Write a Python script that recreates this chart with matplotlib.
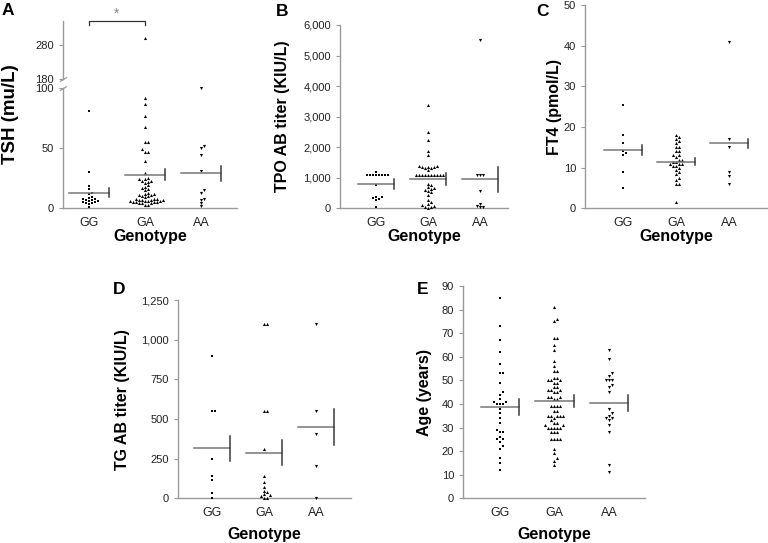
import numpy as np
import matplotlib
matplotlib.use('Agg')
import matplotlib.pyplot as plt

plt.rcParams['font.family'] = ['Liberation Sans', 'DejaVu Sans']

genotypes = ['GG', 'GA', 'AA']
markers = ['s', '^', 'v']
sizes = [3.2, 5, 5]

# A: TSH (mu/L)
tsh_gg = [81, 30, 18.5, 16, 13, 12, 9, 8.5, 8, 7.5, 7, 6.5, 6, 6, 5.5, 5, 4.5, 4, 3.5, 1]
tsh_ga = [300, 92, 87, 77, 68, 55, 55, 49, 47, 47, 39, 29, 25, 24, 24, 23, 23, 22, 21,
          19, 18, 17, 16, 15, 13, 12, 12, 11, 11, 10, 10, 9, 8, 8, 8, 7, 7, 7, 7, 6,
          6, 6, 6, 5, 5, 5, 5, 4, 4, 4, 3, 3]
tsh_aa = [100, 52, 50, 44, 31, 15, 13, 7.5, 7, 4.5, 1.5]
tsh_mean = [13, 28, 29]
tsh_sem = [3.5, 4.5, 6.5]

# B: TPO AB titer (KIU/L)
tpo_gg = [1200, 1100, 1100, 1100, 1100, 1100, 1100, 1100, 1100, 750, 380, 370, 330, 300, 280, 50]
tpo_ga = [3380, 2500, 2250, 1870, 1750, 1380, 1370, 1360, 1350, 1340, 1330, 1320, 1250,
          1100, 1100, 1100, 1100, 1100, 1100, 1100, 1100, 1100, 1100,
          800, 750, 700, 650, 620, 600, 560, 520, 440, 280, 200, 150, 100, 60, 40, 30, 20]
tpo_aa = [5500, 1100, 1100, 1100, 560, 150, 90, 40, 30]
tpo_mean = [795, 960, 950]
tpo_sem = [170, 190, 410]

# C: FT4 (pmol/L)
ft4_gg = [25.5, 18, 16, 14, 13.5, 13, 9, 5]
ft4_ga = [18, 17.5, 17, 16.5, 16, 15, 15, 14, 14, 13, 13, 12.5, 12, 12, 11.5, 11.5, 11, 11,
          11, 10.5, 10.5, 10, 9.5, 9, 8.5, 7.5, 7, 6, 6, 1.5]
ft4_aa = [41, 17, 15, 9, 8, 6]
ft4_mean = [14.3, 11.5, 16.0]
ft4_sem = [1.2, 0.95, 1.05]

# D: TG AB titer (KIU/L)
tg_gg = [900, 550, 550, 245, 140, 115, 35, 5]
tg_ga = [1100, 1100, 550, 550, 310, 140, 105, 70, 45, 40, 25, 20, 15, 5, 2]
tg_aa = [1100, 550, 405, 205, 0]
tg_mean = [315, 287, 451]
tg_sem = [77, 78, 113]

# E: Age (years)
age_gg = [85, 73, 67, 62, 57, 53, 53, 49, 45, 44, 42, 41, 41, 40, 40, 40, 38, 36, 34, 32,
          29, 28, 28, 26, 25, 25, 24, 22, 21, 17, 15, 12]
age_ga = [81, 76, 75, 68, 68, 65, 63, 58, 56, 54, 54, 51, 51, 50, 50, 50, 49, 49, 47, 47,
          46, 46, 46, 45, 45, 43, 43, 43, 42, 42, 39, 39, 39, 39, 37, 37, 35, 35, 35, 35,
          35, 34, 33, 32, 32, 31, 31, 30, 30, 30, 30, 30, 28, 28, 28, 25, 25, 25, 25, 21,
          19, 17, 16, 14]
age_aa = [63, 59, 53, 52, 50, 50, 50, 48, 47, 45, 38, 36, 35, 34, 34, 33, 31, 28, 14, 11]
age_mean = [38.8, 41.2, 40.3]
age_sem = [3.5, 2.4, 3.5]

W, H = 768, 543
fig = plt.figure(figsize=(W / 100, H / 100), dpi=100)

spine_c = '#9a9a9a'
text_c = '#222222'


def add_axes(xl, xr, yt, yb):
    return fig.add_axes([xl / W, 1 - yb / H, (xr - xl) / W, (yb - yt) / H])


def swarm(ax, xc, vals, d=3.0):
    vals = np.asarray(vals, float)
    pix = ax.transData.transform(np.column_stack([np.full(len(vals), xc), vals]))
    x0 = pix[0, 0]
    ys = pix[:, 1]
    xs = np.empty(len(vals))
    placed = []
    for i in np.argsort(ys):
        for k in range(80):
            step = (k + 1) // 2 * (1 if k % 2 else -1)
            cand = x0 + step * d
            if all((cand - px) ** 2 + (ys[i] - py) ** 2 >= d * d for px, py in placed):
                break
        placed.append((cand, ys[i]))
        xs[i] = cand
    return ax.transData.inverted().transform(np.column_stack([xs, ys]))[:, 0]


def panel(box, xlim, ylim, groups, means, sems, ylabel, yticks, yticklabels,
          letter, letter_xy, ylab_x, xlab_y, scale=None, ylab_size=11.5):
    xl, xr, yt, yb = box
    ax = add_axes(xl, xr, yt, yb)
    if scale is not None:
        ax.set_yscale('function', functions=scale)
    ax.set_xlim(*xlim)
    ax.set_ylim(*ylim)
    for s in ['top', 'right']:
        ax.spines[s].set_visible(False)
    for s in ['left', 'bottom']:
        ax.spines[s].set_color(spine_c)
        ax.spines[s].set_linewidth(1.0)
    ax.set_xticks([1, 2, 3])
    ax.set_xticklabels(genotypes)
    ax.set_yticks(yticks)
    ax.set_yticklabels(yticklabels)
    ax.tick_params(axis='x', length=0, pad=6, labelsize=9, labelcolor=text_c)
    ax.tick_params(axis='y', length=3, width=0.8, color=spine_c, pad=3.5,
                   labelsize=8, labelcolor=text_c)
    ax.minorticks_off()
    for i, vals in enumerate(groups):
        xs = swarm(ax, i + 1, vals)
        ax.scatter(xs, vals, s=sizes[i], marker=markers[i], c='black',
                   linewidths=0, clip_on=False, zorder=3)
        c = i + 1
        ax.plot([c - 0.35, c + 0.35], [means[i], means[i]], color='#777777',
                lw=1.1, zorder=4)
        ax.plot([c + 0.35, c + 0.35], [means[i] - sems[i], means[i] + sems[i]],
                color='#3a3a3a', lw=1.1, zorder=4)
    ax.set_ylabel(ylabel, fontsize=ylab_size, fontweight='bold', va='center', color='black')
    ax.yaxis.set_label_coords((ylab_x - xl) / (xr - xl), 0.5)
    ax.set_xlabel('Genotype', fontsize=11.5, fontweight='bold', va='center', color='black')
    ax.xaxis.set_label_coords(0.5, -(xlab_y - yb) / (yb - yt))
    fig.text(letter_xy[0] / W, 1 - letter_xy[1] / H, letter, fontsize=12.5,
             fontweight='bold', ha='left', va='top')
    return ax


# broken y scale for TSH: 0-100 linear, gap, 180+ compressed
K = 0.2833
G = 107.9


def fwd(y):
    y = np.asarray(y, float)
    return np.where(y <= 100, y,
                    np.where(y < 180, 100 + (y - 100) * (G - 100) / 80,
                             G + (y - 180) * K))


def inv(z):
    z = np.asarray(z, float)
    return np.where(z <= 100, z,
                    np.where(z < G, 100 + (z - 100) * 80 / (G - 100),
                             180 + (z - G) / K))


axA = panel((63, 237, 20.7, 208.3), (0.536, 3.643), (0, 350),
            [tsh_gg, tsh_ga, tsh_aa], tsh_mean, tsh_sem, 'TSH (mu/L)',
            [0, 50, 100, 180, 280], ['0', '50', '100', '180', '280'],
            'A', (2, 3), 11, 237, scale=(fwd, inv), ylab_size=13.5)
axA.spines['left'].set_visible(False)
x0 = axA.get_xlim()[0]
axA.plot([x0, x0], [0, 100], color=spine_c, lw=1.0, clip_on=False)
axA.plot([x0, x0], [180, 350], color=spine_c, lw=1.0, clip_on=False)
# break marks
brk = [(-1, -0.6), (1, 0.6)]
axA.plot([x0], [100], marker=brk, markersize=5, mew=0.9, color=spine_c, clip_on=False)
axA.plot([x0], [180], marker=brk, markersize=5, mew=0.9, color=spine_c, clip_on=False)
# significance bracket GG vs GA
tr = axA.get_xaxis_transform()
axA.plot([1, 1, 2, 2], [0.978, 1.0, 1.0, 0.978], transform=tr, color='#333333',
         lw=0.9, clip_on=False)
axA.text(1.5, 1.035, '*', transform=tr, ha='center', va='center', fontsize=10,
         color='#888888')

tpo_ticks = [0, 1000, 2000, 3000, 4000, 5000, 6000]
panel((340, 508, 25, 208.3), (0.308, 3.538), (0, 6000),
      [tpo_gg, tpo_ga, tpo_aa], tpo_mean, tpo_sem, 'TPO AB titer (KIU/L)',
      tpo_ticks, [f'{t:,}' for t in tpo_ticks], 'B', (276, 4), 283, 237)

ft4_ticks = [0, 10, 20, 30, 40, 50]
panel((585, 767, 5, 208.3), (0.283, 3.717), (0, 50),
      [ft4_gg, ft4_ga, ft4_aa], ft4_mean, ft4_sem, 'FT4 (pmol/L)',
      ft4_ticks, [str(t) for t in ft4_ticks], 'C', (536, 4), 555, 237)

tg_ticks = [0, 250, 500, 750, 1000, 1250]
panel((178, 351, 300, 498.3), (0.346, 3.673), (0, 1250),
      [tg_gg, tg_ga, tg_aa], tg_mean, tg_sem, 'TG AB titer (KIU/L)',
      tg_ticks, [f'{t:,}' for t in tg_ticks], 'D', (113, 282), 122, 534)

age_ticks = list(range(0, 100, 10))
panel((463, 645, 286, 498.3), (0.321, 3.661), (0, 90),
      [age_gg, age_ga, age_aa], age_mean, age_sem, 'Age (years)',
      age_ticks, [str(t) for t in age_ticks], 'E', (417, 282), 425, 534)

fig.savefig('out.png', dpi=100)
